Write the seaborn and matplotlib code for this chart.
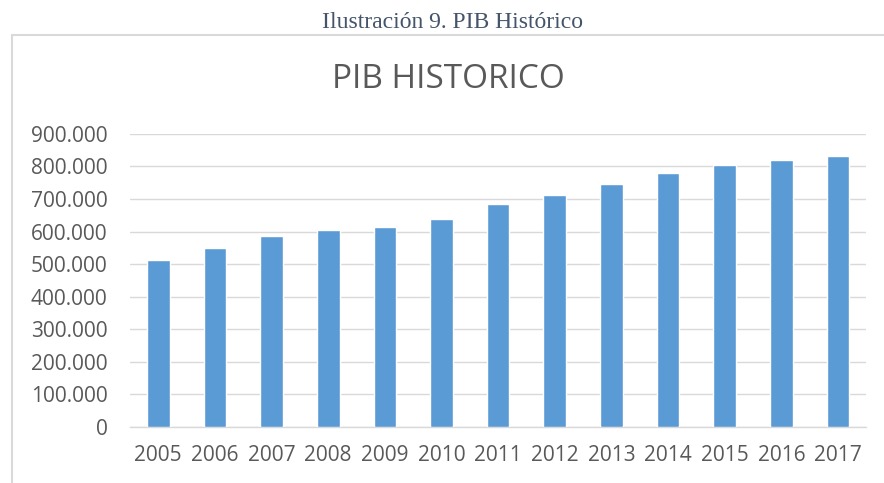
import matplotlib
matplotlib.use("Agg")
import matplotlib.pyplot as plt
from matplotlib.lines import Line2D
from matplotlib.ticker import FuncFormatter
import seaborn as sns
import pandas as pd

# PIB por año
years = ["2005", "2006", "2007", "2008", "2009", "2010", "2011",
         "2012", "2013", "2014", "2015", "2016", "2017"]
pib = [514000, 549000, 587000, 605500, 614000, 639000, 685500,
       712000, 745000, 781000, 803000, 820000, 831000]
y_ticks = [0, 100000, 200000, 300000, 400000, 500000, 600000, 700000, 800000, 900000]

caption = "Ilustración 9. PIB Histórico"
title = "PIB HISTORICO"

BAR_COLOR = "#5B9BD5"
TEXT_COLOR = "#595959"
GRID_COLOR = "#D9D9D9"


def thousands(v, pos):
    return f"{int(v):,}".replace(",", ".")


def plot_pib(df):
    sns.set_style("white")
    plt.rcParams["font.family"] = ["Open Sans", "DejaVu Sans"]

    fig = plt.figure(figsize=(8.84, 4.83), dpi=100)
    ax = fig.add_axes([0.147, 0.116, 0.833, 0.607])

    # marco del gráfico (solo borde superior e izquierdo, el resto queda fuera)
    fx, fy = 12 / 884, 1 - 35 / 483
    fig.add_artist(Line2D([fx, 1.0], [fy, fy], transform=fig.transFigure,
                          color=GRID_COLOR, linewidth=1.5))
    fig.add_artist(Line2D([fx, fx], [fy, 0.0], transform=fig.transFigure,
                          color=GRID_COLOR, linewidth=1.5))

    sns.barplot(data=df, x="Year", y="PIB", color=BAR_COLOR, width=0.4,
                saturation=1, ax=ax, zorder=3)

    ax.set_ylim(0, 900000)
    ax.set_yticks(y_ticks)
    ax.yaxis.set_major_formatter(FuncFormatter(thousands))
    ax.set_xlim(-0.5, len(years) - 0.5)
    ax.grid(axis="y", color=GRID_COLOR, linewidth=1.0, zorder=0)
    ax.set_axisbelow(True)
    for side in ["top", "right", "left"]:
        ax.spines[side].set_visible(False)
    ax.spines["bottom"].set_color(GRID_COLOR)
    ax.spines["bottom"].set_linewidth(1.0)
    ax.tick_params(axis="both", length=0, labelsize=15, colors=TEXT_COLOR)
    ax.tick_params(axis="x", pad=13)
    ax.tick_params(axis="y", pad=16)
    ax.set_xlabel("")
    ax.set_ylabel("")

    fig.text(0.507, 1 - 80 / 483, title, ha="center", va="center",
             fontsize=24, color=TEXT_COLOR)
    fig.text(0.512, 1 - 22 / 483, caption, ha="center", va="center",
             fontsize=17, color="#44546A", family="Liberation Serif")

    fig.savefig("out.png", dpi=100)
    plt.close(fig)


def main():
    df = pd.DataFrame({"Year": years, "PIB": pib})
    plot_pib(df)


if __name__ == "__main__":
    main()
